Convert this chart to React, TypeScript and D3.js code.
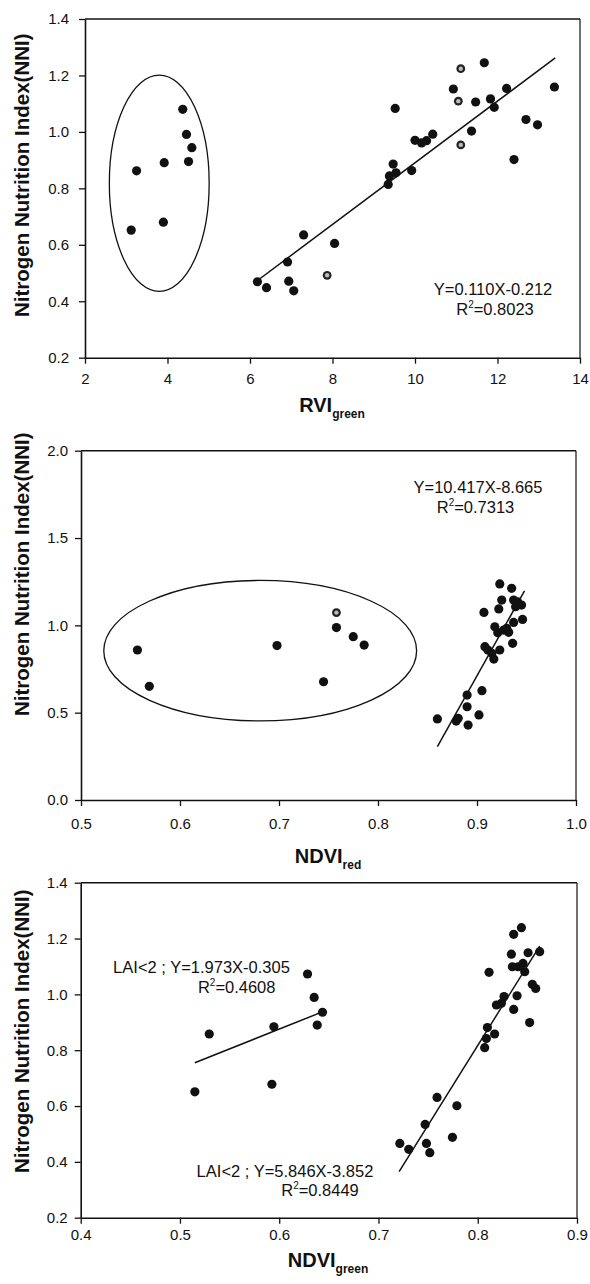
import React, { useEffect, useRef } from "react";
import * as d3 from "d3";

// ---------- Panel 1 : RVI green ----------
const rviTicksX = [2, 4, 6, 8, 10, 12, 14];
const rviTicksY = [0.2, 0.4, 0.6, 0.8, 1.0, 1.2, 1.4];
const rviX = [3.12, 3.25, 3.92, 3.9, 4.37, 4.46, 4.59, 4.51, 6.18, 6.4, 6.91, 6.94, 7.06, 7.3, 8.05, 9.35, 9.38, 9.47, 9.54, 9.52, 9.92, 10.0, 10.16, 10.28, 10.43, 10.93, 11.37, 11.47, 11.68, 11.83, 11.92, 12.22, 12.4, 12.69, 12.97, 13.38];
const rviY = [0.652, 0.862, 0.891, 0.68, 1.08, 0.991, 0.944, 0.895, 0.469, 0.448, 0.539, 0.471, 0.437, 0.635, 0.605, 0.814, 0.844, 0.886, 0.855, 1.083, 0.863, 0.97, 0.961, 0.969, 0.992, 1.152, 1.003, 1.106, 1.245, 1.117, 1.087, 1.154, 0.902, 1.044, 1.025, 1.159];
const rviHatchX = [7.87, 11.05, 11.11, 11.11];
const rviHatchY = [0.492, 1.109, 1.224, 0.954];
const rviFitX = [6.15, 13.4];
const rviFitY = [0.47, 1.262];
const rviEllipse = [3.8, 0.818, 1.21, 0.383]; // cx, cy, rx, ry (data units)
const rviEquation = ["Y=0.110X-0.212", "0.8023"];

// ---------- Panel 2 : NDVI red ----------
const ndviRTicksX = [0.5, 0.6, 0.7, 0.8, 0.9, 1.0];
const ndviRTicksY = [0.0, 0.5, 1.0, 1.5, 2.0];
const ndviRX = [0.557, 0.569, 0.698, 0.745, 0.758, 0.775, 0.786, 0.86, 0.879, 0.881, 0.89, 0.89, 0.891, 0.902, 0.905, 0.907, 0.908, 0.911, 0.917, 0.915, 0.923, 0.922, 0.923, 0.925, 0.921, 0.927, 0.93, 0.932, 0.935, 0.936, 0.937, 0.937, 0.939, 0.941, 0.946, 0.945, 0.918];
const ndviRY = [0.859, 0.651, 0.884, 0.677, 0.987, 0.935, 0.887, 0.464, 0.452, 0.468, 0.601, 0.534, 0.429, 0.487, 0.626, 1.074, 0.878, 0.859, 0.807, 0.84, 1.237, 1.094, 0.859, 1.145, 0.958, 0.973, 0.983, 0.96, 1.212, 0.897, 1.017, 1.145, 1.107, 1.135, 1.034, 1.116, 0.992];
const ndviRHatchX = [0.758];
const ndviRHatchY = [1.073];
const ndviRFitX = [0.86, 0.948];
const ndviRFitY = [0.305, 1.198];
const ndviREllipse = [0.681, 0.855, 0.158, 0.402];
const ndviREquation = ["Y=10.417X-8.665", "0.7313"];

// ---------- Panel 3 : NDVI green ----------
const ndviGTicksX = [0.4, 0.5, 0.6, 0.7, 0.8, 0.9];
const ndviGTicksY = [0.2, 0.4, 0.6, 0.8, 1.0, 1.2, 1.4];
const ndviGX = [0.515, 0.5295, 0.5926, 0.5946, 0.6285, 0.6352, 0.6383, 0.6436, 0.7215, 0.7305, 0.747, 0.7483, 0.7517, 0.759, 0.7745, 0.779, 0.807, 0.8087, 0.8097, 0.8114, 0.817, 0.8188, 0.8238, 0.8265, 0.8339, 0.8349, 0.8362, 0.8362, 0.8396, 0.8406, 0.844, 0.8456, 0.8473, 0.8507, 0.8523, 0.855, 0.8584, 0.8624];
const ndviGY = [0.651, 0.858, 0.678, 0.884, 1.073, 0.989, 0.89, 0.936, 0.466, 0.445, 0.534, 0.466, 0.433, 0.631, 0.488, 0.601, 0.809, 0.842, 0.881, 1.079, 0.858, 0.962, 0.968, 0.992, 1.144, 1.099, 0.946, 1.215, 0.995, 1.099, 1.239, 1.111, 1.081, 1.149, 0.899, 1.036, 1.021, 1.153];
const ndviGFitLowX = [0.515, 0.644];
const ndviGFitLowY = [0.755, 0.938];
const ndviGFitHighX = [0.7208, 0.8624];
const ndviGFitHighY = [0.365, 1.173];
const ndviGEquationLow = ["LAI<2 ; Y=1.973X-0.305", "0.4608"];
const ndviGEquationHigh = ["LAI<2 ; Y=5.846X-3.852", "0.8449"];

const yTitle = "Nitrogen Nutrition Index(NNI)";
const FONT = "'Liberation Sans', Arial, Helvetica, sans-serif";

type Panel = {
  xDomain: [number, number];
  yDomain: [number, number];
  left: number; right: number; top: number; bottom: number;
  xTicks: number[]; yTicks: number[];
  xFmt: (d: number) => string;
  xPad: number; yPad: number;
  xs: number[]; ys: number[];
  hx: number[]; hy: number[];
  fits: { x: number[]; y: number[] }[];
  ellipse?: number[];
  eqs: { lines: string[]; x1: number; b1: number; x2: number; b2: number }[];
  xTitle: [string, string]; xTitleX: number; xTitleB: number;
  yTitleBottom: number;
};

const panels: Panel[] = [
  {
    xDomain: [2, 14], yDomain: [0.2, 1.4], left: 85, right: 580, top: 19, bottom: 357.7,
    xTicks: rviTicksX, yTicks: rviTicksY, xFmt: d3.format("d"), xPad: 10, yPad: 10,
    xs: rviX, ys: rviY, hx: rviHatchX, hy: rviHatchY,
    fits: [{ x: rviFitX, y: rviFitY }], ellipse: rviEllipse,
    eqs: [{ lines: rviEquation, x1: 493, b1: 295, x2: 495, b2: 315 }],
    xTitle: ["RVI", "green"], xTitleX: 332, xTitleB: 412, yTitleBottom: 317,
  },
  {
    xDomain: [0.5, 1.0], yDomain: [0, 2], left: 81, right: 576, top: 450.7, bottom: 800,
    xTicks: ndviRTicksX, yTicks: ndviRTicksY, xFmt: d3.format(".1f"), xPad: 12, yPad: 7,
    xs: ndviRX, ys: ndviRY, hx: ndviRHatchX, hy: ndviRHatchY,
    fits: [{ x: ndviRFitX, y: ndviRFitY }], ellipse: ndviREllipse,
    eqs: [{ lines: ndviREquation, x1: 478, b1: 493, x2: 475.5, b2: 513 }],
    xTitle: ["NDVI", "red"], xTitleX: 328, xTitleB: 863, yTitleBottom: 716,
  },
  {
    xDomain: [0.4, 0.9], yDomain: [0.2, 1.4], left: 80.7, right: 577, top: 882.7, bottom: 1217.7,
    xTicks: ndviGTicksX, yTicks: ndviGTicksY, xFmt: d3.format(".1f"), xPad: 6, yPad: 7,
    xs: ndviGX, ys: ndviGY, hx: [], hy: [],
    fits: [{ x: ndviGFitLowX, y: ndviGFitLowY }, { x: ndviGFitHighX, y: ndviGFitHighY }],
    eqs: [
      { lines: ndviGEquationLow, x1: 201.5, b1: 973, x2: 236.7, b2: 993 },
      { lines: ndviGEquationHigh, x1: 285, b1: 1177, x2: 320, b2: 1196 },
    ],
    xTitle: ["NDVI", "green"], xTitleX: 328, xTitleB: 1267, yTitleBottom: 1173,
  },
];

function drawPanel(svg: d3.Selection<SVGSVGElement, unknown, null, undefined>, p: Panel) {
  const x = d3.scaleLinear().domain(p.xDomain).range([p.left, p.right]);
  const y = d3.scaleLinear().domain(p.yDomain).range([p.bottom, p.top]);
  const g = svg.append("g");

  // frame (top + right)
  g.append("line").attr("x1", p.left).attr("x2", p.right).attr("y1", p.top).attr("y2", p.top)
    .attr("stroke", "#111").attr("stroke-width", 1.4);
  g.append("line").attr("x1", p.right).attr("x2", p.right).attr("y1", p.top).attr("y2", p.bottom)
    .attr("stroke", "#111").attr("stroke-width", 1.2);

  const xa = g.append("g").attr("transform", `translate(0,${p.bottom})`)
    .call(d3.axisBottom(x).tickValues(p.xTicks).tickFormat(p.xFmt as any).tickSize(6).tickSizeOuter(0).tickPadding(p.xPad));
  const ya = g.append("g").attr("transform", `translate(${p.left},0)`)
    .call(d3.axisLeft(y).tickValues(p.yTicks).tickFormat(d3.format(".1f") as any).tickSize(6).tickSizeOuter(0).tickPadding(p.yPad));
  [xa, ya].forEach((a) => {
    a.select(".domain").attr("stroke", "#111").attr("stroke-width", 1.6);
    a.selectAll(".tick line").attr("stroke", "#111").attr("stroke-width", 1.3);
    a.selectAll(".tick text").attr("fill", "#111").attr("font-size", 15).attr("font-family", FONT);
  });

  // ellipse
  if (p.ellipse) {
    const [cx, cy, rx, ry] = p.ellipse;
    g.append("ellipse").attr("cx", x(cx)).attr("cy", y(cy))
      .attr("rx", x(cx + rx) - x(cx)).attr("ry", y(cy) - y(cy + ry))
      .attr("fill", "none").attr("stroke", "#111").attr("stroke-width", 1.3);
  }

  // fit lines
  const line = d3.line<[number, number]>().x((d) => x(d[0])).y((d) => y(d[1]));
  p.fits.forEach((f) => {
    g.append("path").attr("d", line(f.x.map((v, i) => [v, f.y[i]] as [number, number])))
      .attr("fill", "none").attr("stroke", "#111").attr("stroke-width", 1.5);
  });

  // points
  g.selectAll("circle.pt").data(p.xs.map((v, i) => [v, p.ys[i]])).join("circle")
    .attr("class", "pt").attr("cx", (d) => x(d[0])).attr("cy", (d) => y(d[1]))
    .attr("r", 4.6).attr("fill", "#111");
  const hs = p.hx.map((v, i) => [v, p.hy[i]]);
  g.selectAll("circle.ht").data(hs).join("circle")
    .attr("class", "ht").attr("cx", (d) => x(d[0])).attr("cy", (d) => y(d[1]))
    .attr("r", 4.4).attr("fill", "#222");
  g.selectAll("circle.hti").data(hs).join("circle")
    .attr("class", "hti").attr("cx", (d) => x(d[0])).attr("cy", (d) => y(d[1]))
    .attr("r", 2.2).attr("fill", "#bbb");

  // equations
  p.eqs.forEach((e) => {
    g.append("text").attr("x", e.x1).attr("y", e.b1).attr("text-anchor", "middle")
      .attr("font-family", FONT).attr("font-size", 16.5).attr("fill", "#111").text(e.lines[0]);
    const t = g.append("text").attr("x", e.x2).attr("y", e.b2).attr("text-anchor", "middle")
      .attr("font-family", FONT).attr("font-size", 16.5).attr("fill", "#111");
    t.append("tspan").text("R");
    t.append("tspan").attr("font-size", 10).attr("dy", -7).text("2");
    t.append("tspan").attr("dy", 7).text("=" + e.lines[1]);
  });

  // x title
  const xt = g.append("text").attr("x", p.xTitleX).attr("y", p.xTitleB).attr("text-anchor", "middle")
    .attr("font-family", FONT).attr("font-weight", "bold").attr("font-size", 20).attr("fill", "#111");
  xt.append("tspan").text(p.xTitle[0]);
  xt.append("tspan").attr("font-size", 12).attr("dy", 6).text(p.xTitle[1]);

  // y title
  g.append("text").attr("transform", `translate(29,${p.yTitleBottom}) rotate(-90)`)
    .attr("text-anchor", "start").attr("font-family", FONT).attr("font-weight", "bold")
    .attr("font-size", 20.5).attr("fill", "#111").text(yTitle);
}

export default function App() {
  const ref = useRef<SVGSVGElement>(null);
  useEffect(() => {
    const svg = d3.select(ref.current!);
    svg.selectAll("*").remove();
    panels.forEach((p) => drawPanel(svg as any, p));
  }, []);
  return (
    <svg ref={ref} width={590} height={1284}
      style={{ position: "absolute", left: 0, top: 0, background: "#fff", display: "block" }} />
  );
}
